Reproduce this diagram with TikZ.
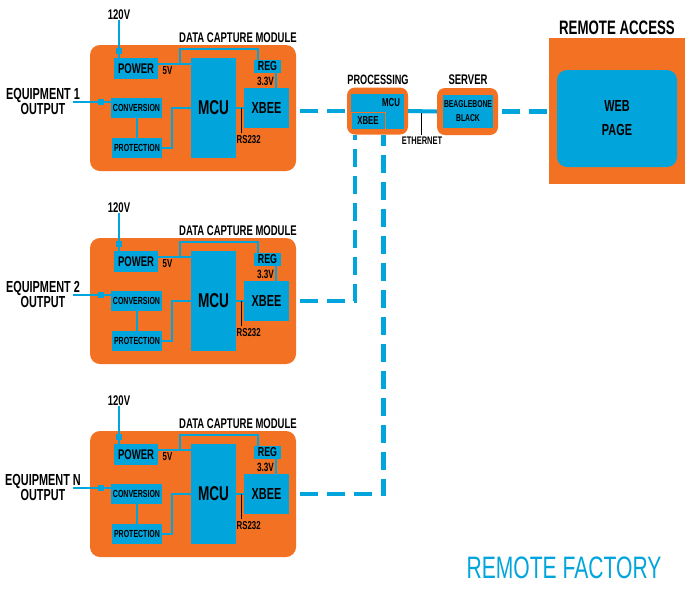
\documentclass[tikz,border=0pt]{standalone}
\usepackage{fontspec}
\newfontfamily\cf{Liberation Sans}[FakeStretch=0.68]
\definecolor{orng}{RGB}{242,113,35}
\definecolor{blu}{RGB}{2,165,219}
\tikzset{
  txt/.style 2 args={font=\cf\bfseries\fontsize{#1}{#2}\selectfont},
  orangebox/.style={fill=orng, rounded corners=10pt, inner sep=0pt},
  bluebox/.style={fill=blu, inner sep=0pt, text=black},
  wire/.style={draw=blu, line width=2pt},
  tick/.style={draw=black, line width=0.8pt},
  sq/.style={fill=blu, minimum size=6pt, inner sep=0pt},
  link/.style={draw=blu, line width=4.5pt, dash pattern=on 18pt off 9pt},
  eth/.style={draw=blu, line width=4pt},
  lbl/.style={inner sep=0pt}
}
\begin{document}
\begin{tikzpicture}[x=1pt,y=-1pt]
\useasboundingbox (0,0) rectangle (690,590);

\foreach \i/\eq in {1/1,2/2,3/N}{
\begin{scope}[shift={(0,{193*(\i-1)})}]
  \node[orangebox, minimum width=206pt, minimum height=126pt] (mod\i) at (193,108) {};
  \node[lbl, txt={14}{14}] (dcm\i) at (238,38) {DATA CAPTURE MODULE};
  \node[lbl, txt={14}{14}] (v\i) at (119,15) {120V};
  \node[bluebox, minimum width=44pt, minimum height=21pt, txt={14}{14}] (pow\i) at (136,68.5) {POWER};
  \node[bluebox, minimum width=45pt, minimum height=100pt, txt={20}{20}] (mcu\i) at (213.5,108) {MCU};
  \node[bluebox, minimum width=27pt, minimum height=13pt, txt={13}{13}] (reg\i) at (267.5,66.5) {REG};
  \node[bluebox, minimum width=45pt, minimum height=40pt, txt={16}{16}] (xb\i) at (266.5,108) {XBEE};
  \node[bluebox, minimum width=51pt, minimum height=20pt, txt={10.3}{10.3}] (conv\i) at (136.5,108) {CONVERSION};
  \node[bluebox, minimum width=50pt, minimum height=20pt, txt={10.3}{10.3}] (prot\i) at (137,148) {PROTECTION};
  \node[lbl, txt={11.5}{11.5}] (fv\i) at (167.5,71) {5V};
  \node[lbl, txt={12}{12}] (tv\i) at (265.5,81.5) {3.3V};
  \node[lbl, txt={11.5}{11.5}, anchor=north west] (rsl\i) at (236.5,135.5) {RS232};
  \node[lbl, txt={16}{15}, align=center] (eq\i) at (43,101.5) {EQUIPMENT \eq\\OUTPUT};
  % supply
  \draw[wire] (v\i.south) -- (v\i.south |- pow\i.north);
  \node[sq] (sqv\i) at (119,51) {};
  % input
  \coordinate (in\i) at (73,102);
  \draw[wire] (in\i) -- (in\i -| conv\i.west);
  \node[sq] (sqi\i) at (100.5,102) {};
  % 5V distribution
  \coordinate (j\i) at (180,64);
  \coordinate (k\i) at (180,49);
  \coordinate (rg\i) at ([xshift=-10pt]reg\i.north);
  \draw[wire] (pow\i.east |- j\i) -- (mcu\i.west |- j\i);
  \draw[wire] (j\i) -- (k\i) -| (rg\i);
  \coordinate (r\i) at ([xshift=8pt]reg\i.south);
  \draw[wire] (r\i) -- (r\i |- xb\i.north);
  % MCU - XBEE
  \draw[wire] (mcu\i.east) -- (xb\i.west);
  \coordinate (rt\i) at (241,108);
  \draw[tick] (rt\i) -- ++(0,25);
  % conversion chain
  \draw[wire] (conv\i.south) -- (conv\i.south |- prot\i.north);
  \draw[wire] (prot\i.east) -- ++(10,0) |- (mcu\i.west);
\end{scope}
}

% processing
\node[lbl, txt={13.5}{13.5}] (proct) at (378,80) {PROCESSING};
\node[orangebox, rounded corners=8pt, minimum width=61pt, minimum height=47pt] (proc) at (377.5,111) {};
\node[bluebox, minimum width=53pt, minimum height=35pt] (pmcu) at (377.5,111.5) {};
\node[lbl, txt={11.5}{11.5}] (pmcut) at (391,103) {MCU};
\node[bluebox, draw=orng, line width=1pt, minimum width=34pt, minimum height=17pt, txt={11.5}{11.5}] (pxb) at (368,120.5) {XBEE};

% server
\node[lbl, txt={14}{14}] (srvt) at (468,80) {SERVER};
\node[orangebox, rounded corners=8pt, minimum width=61pt, minimum height=47pt] (srv) at (467.5,111.5) {};
\node[bluebox, minimum width=50pt, minimum height=33pt, txt={10}{14}, align=center] (bb) at (468,111.5) {BEAGLEBONE\\BLACK};

% ethernet
\draw[eth] (proc.east) -- (srv.west);
\coordinate (et) at (421,113);
\draw[tick] (et) -- ++(0,22);
\node[lbl, txt={11}{11}] (ett) at (422,141) {ETHERNET};

% remote access
\node[lbl, txt={19.5}{19.5}] (rat) at (617,28) {REMOTE ACCESS};
\node[fill=orng, inner sep=0pt, minimum width=136pt, minimum height=146pt] (remote) at (617,111) {};
\node[bluebox, rounded corners=10pt, minimum width=120pt, minimum height=97pt, txt={16}{24}, align=center] (web) at (617,118.5) {WEB\\PAGE};

% wireless links
\coordinate (s1) at (300,111);
\draw[link] (s1) -- (s1 -| proc.west);
\coordinate (s2) at (300,301);
\coordinate (c2) at (355,301);
\draw[link] (s2) -- (c2) -- (c2 |- proc.south);
\coordinate (s3) at (300,494);
\coordinate (c3) at (383.5,494);
\draw[link] (s3) -- (c3) -- (c3 |- proc.south);
\coordinate (s4) at ([xshift=4pt]srv.east);
\draw[link] (s4) -- (s4 -| remote.west);

\node[lbl, text=blu, font=\cf\fontsize{31}{31}\selectfont] (rf) at (564,568) {REMOTE FACTORY};
\end{tikzpicture}
\end{document}
